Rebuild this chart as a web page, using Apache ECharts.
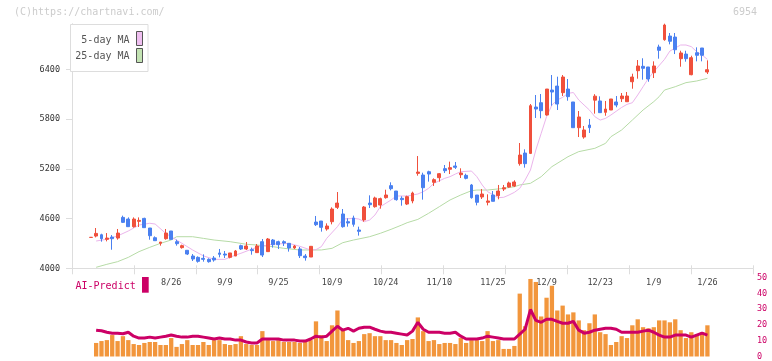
<!DOCTYPE html>
<html><head><meta charset="utf-8">
<script src="https://cdn.jsdelivr.net/npm/echarts@6/dist/echarts.min.js"></script>
<style>html,body{margin:0;padding:0;background:#fff}#c{width:772px;height:361px}</style>
</head><body><div id="c"></div>
<script>
// ---- data ----
const PAD = 3;          // empty slots before first candle
const SLOTS = 127;      // total category slots on the x axis
const tickLabels = [[15,'8/26'],[25,'9/9'],[35,'9/25'],[45,'10/9'],[55,'10/24'],[65,'11/10'],[75,'11/25'],[85,'12/9'],[95,'12/23'],[105,'1/9'],[115,'1/26']];
const yTicks = [4000,4600,5200,5800,6400];
const volTicks = [0,10,20,30,40,50];
// [open, close, low, high]
const ohlc = [
[4372,4374,4372,4374],[4389,4421,4373,4486],[4405,4357,4321,4417],[4349,4365,4325,4425],[4377,4357,4224,4401],
[4365,4425,4345,4474],[4614,4554,4546,4635],[4594,4502,4502,4614],[4502,4594,4490,4614],[4566,4578,4498,4614],
[4602,4490,4490,4610],[4486,4393,4345,4486],[4369,4333,4333,4385],[4301,4317,4273,4317],[4357,4425,4345,4474],
[4450,4349,4349,4450],[4321,4297,4273,4345],[4249,4273,4237,4285],[4217,4172,4160,4217],[4148,4112,4088,4172],
[4132,4084,4068,4144],[4120,4108,4080,4168],[4108,4080,4068,4120],[4124,4100,4080,4148],[4185,4168,4132,4233],
[4172,4160,4124,4209],[4132,4185,4120,4185],[4148,4209,4148,4221],[4273,4233,4221,4285],[4233,4269,4221,4317],
[4225,4213,4164,4249],[4189,4269,4189,4293],[4321,4160,4136,4353],[4201,4353,4201,4365],[4341,4285,4249,4353],
[4321,4285,4233,4333],[4321,4305,4269,4337],[4301,4245,4201,4301],[4245,4269,4233,4281],[4233,4152,4124,4257],
[4148,4128,4092,4172],[4136,4265,4136,4269],[4558,4526,4510,4631],[4570,4494,4442,4570],[4474,4510,4454,4542],
[4562,4715,4530,4735],[4735,4787,4715,4920],[4655,4502,4490,4715],[4562,4546,4502,4603],[4607,4530,4502,4635],
[4462,4446,4394,4502],[4583,4739,4562,4751],[4787,4767,4727,4880],[4743,4848,4731,4864],[4763,4840,4719,4852],
[4852,4884,4840,4948],[4997,4960,4940,5037],[4932,4828,4816,4932],[4844,4828,4755,4868],[4775,4864,4763,4876],
[4812,4908,4784,4924],[5145,5161,5117,5354],[5125,4972,4828,5153],[5165,5137,5045,5177],[5037,5069,4993,5085],
[5093,5141,5045,5149],[5202,5177,5149,5246],[5194,5214,5137,5286],[5234,5218,5198,5282],[5129,5149,5089,5206],
[5121,5085,5073,5141],[5005,4852,4840,5017],[4884,4796,4759,4884],[4860,4896,4836,4956],[4796,4812,4759,4892],
[4884,4808,4808,4932],[4876,4932,4832,5005],[4956,4972,4932,5005],[4980,5029,4972,5045],[4992,5041,4980,5061],
[5262,5366,5238,5511],[5390,5262,5214,5435],[5386,5961,5378,5981],[5945,5921,5813,6090],[5997,5901,5809,6102],
[5849,6162,5841,6162],[6150,6126,5961,6331],[6198,5981,5909,6311],[6118,6307,6078,6331],[6162,6070,6021,6283],
[6006,5696,5696,6006],[5696,5825,5583,5897],[5583,5668,5563,5716],[5728,5696,5632,5801],[6028,6076,5865,6100],
[6018,5877,5877,6074],[5881,5921,5840,6018],[5909,6042,5909,6042],[6006,5969,5942,6078],[6045,6078,6006,6114],
[6009,6078,6006,6126],[6250,6307,6166,6347],[6383,6440,6287,6512],[6436,6412,6275,6533],[6428,6283,6250,6428],
[6359,6440,6295,6496],[6669,6629,6528,6697],[6757,6934,6745,6950],[6801,6738,6701,6838],[6789,6636,6584,6838],
[6528,6597,6431,6624],[6584,6528,6492,6624],[6335,6540,6328,6564],[6600,6569,6496,6665],[6657,6569,6496,6657],
[6367,6395,6343,6508]
];
// [candle index, value]
const ma5 = [[1,4329],[3,4350],[5,4390],[7,4450],[9,4522],[11,4543],[12,4534],[14,4420],[15,4381],[17,4301],[19,4221],[21,4150],[23,4108],[25,4108],[27,4160],[28,4181],[31,4255],[34,4293],[37,4300],[39,4265],[41,4221],[42,4225],[43,4261],[44,4361],[46,4502],[47,4594],[49,4603],[50,4594],[51,4562],[52,4582],[53,4643],[54,4743],[56,4824],[57,4872],[59,4872],[61,4896],[62,4924],[63,4964],[64,5025],[66,5085],[67,5105],[68,5137],[69,5165],[71,5173],[72,5105],[73,5005],[74,4924],[76,4852],[77,4856],[78,4884],[79,4916],[80,4964],[81,5065],[82,5185],[83,5427],[84,5628],[85,5829],[86,5969],[87,6030],[88,6062],[89,6110],[90,6120],[91,6030],[92,5969],[93,5909],[94,5829],[95,5788],[96,5808],[97,5849],[99,5940],[100,5977],[101,5997],[102,6090],[103,6190],[104,6291],[105,6371],[107,6520],[108,6620],[110,6693],[111,6693],[112,6673],[113,6612],[114,6572],[115,6520]];
const ma25 = [[1,4012],[3,4048],[5,4080],[7,4132],[9,4201],[11,4253],[13,4301],[15,4341],[16,4381],[19,4381],[21,4361],[23,4341],[26,4321],[29,4290],[31,4281],[34,4261],[36,4241],[39,4221],[41,4221],[43,4221],[45,4241],[47,4309],[49,4341],[52,4381],[54,4422],[56,4470],[58,4522],[59,4550],[61,4590],[63,4663],[65,4743],[67,4824],[69,4884],[71,4936],[72,4944],[74,4944],[77,4964],[79,4984],[80,5005],[82,5025],[84,5105],[86,5226],[89,5346],[91,5407],[94,5447],[96,5507],[97,5587],[99,5668],[101,5788],[103,5909],[105,6010],[106,6070],[107,6150],[109,6190],[111,6239],[113,6259],[115,6291]];
const volume = [null,
8.6,9.8,10.4,13.6,9.8,12.9,10.4,7.9,7.3,8.6,9.2,9.2,7.3,7.3,11.7,6.1,7.9,10.4,7.3,7.3,9.2,7.3,10.4,10.4,7.9,7.3,7.9,12.9,7.9,7.3,7.3,16.1,10.4,9.8,10.4,9.2,9.2,9.2,8.6,
9.8,10.4,22.3,13.6,9.8,19.8,29.2,16.7,10.4,8.6,9.8,14.2,14.8,12.9,12.9,10.4,10.4,8.6,7.3,10.4,11.1,24.8,16.1,9.8,10.4,7.9,8.6,8.6,7.9,11.7,8.6,10.4,10.4,9.8,16.1,9.8,10.4,4.8,4.8,6.7,39.9,19.2,
49.2,47.3,25.4,37.3,44.9,29.2,32.3,26.7,28.0,22.9,16.7,21.1,26.7,15.4,14.2,7.3,9.2,12.9,11.7,19.8,23.6,18.6,17.9,18.6,22.9,22.9,21.7,23.6,16.7,11.7,15.4,13.6,15.4,19.8];
const aiPredict = [null,
16.7,16.3,15.4,14.8,14.8,14.4,15.4,12.9,11.7,11.7,12.3,11.7,12.3,12.9,13.6,12.9,12.3,12.3,12.9,12.9,12.3,11.7,11.1,11.7,11.1,11.1,10.4,10.4,9.2,8.6,8.6,11.1,11.1,11.1,11.1,10.4,10.4,10.4,9.8,
9.8,11.1,12.9,12.3,12.9,16.1,19.2,16.7,17.9,16.1,17.9,18.6,18.6,17.3,16.1,15.4,15.4,14.8,14.2,13.6,16.1,21.7,17.3,15.4,15.4,15.4,14.8,14.8,15.4,12.9,11.1,11.1,11.1,11.7,12.9,12.3,11.7,11.1,11.1,11.1,14.2,17.3,
29.8,22.9,21.7,23.6,23.6,22.3,21.1,21.1,22.3,16.7,14.8,15.4,16.7,17.3,17.9,17.9,17.3,15.4,15.4,15.4,15.4,16.1,16.7,15.4,13.6,12.3,12.3,13.6,13.6,13.6,12.3,13.6,14.8,13.6];

// ---- chart ----
const mono = "'DejaVu Sans Mono', monospace";
const slots = Array.from({length: SLOTS}, (_, k) => String(k));
const labelMap = {};
tickLabels.forEach(([i, t]) => { labelMap[i + PAD] = t; });
const UP = '#f0503c', DOWN = '#4a80f0';

const chart = echarts.init(document.getElementById('c'), null, {renderer: 'canvas'});
chart.setOption({
  animation: false,
  backgroundColor: '#fff',
  grid: [
    {left: 72, right: 19, top: 23.7, bottom: 92.7},
    {left: 72, right: 19, top: 277.7, bottom: 3.3}
  ],
  xAxis: [
    {type: 'category', gridIndex: 0, data: slots, boundaryGap: true, position: 'bottom',
     axisLine: {show: false}, axisTick: {show: false}, splitLine: {show: false},
     axisLabel: {show: true, interval: (idx) => labelMap[idx] !== undefined, formatter: (v, idx) => labelMap[idx] || '',
       color: '#444', fontSize: 8.5, fontFamily: mono, margin: 10}},
    {type: 'value', gridIndex: 0, min: 0, max: 11, interval: 1, position: 'bottom',
     axisLine: {show: true, lineStyle: {color: '#ddd', width: 1}},
     axisTick: {show: true, length: 6, lineStyle: {color: '#ddd'}},
     axisLabel: {show: false}, splitLine: {show: false}},
    {type: 'value', gridIndex: 0, min: 0, max: 11, interval: 1, position: 'bottom',
     axisLine: {show: false}, axisTick: {show: true, inside: true, length: 3, lineStyle: {color: '#ddd'}},
     axisLabel: {show: false}, splitLine: {show: false}},
    {type: 'category', gridIndex: 1, data: slots, boundaryGap: true,
     axisLine: {show: false}, axisTick: {show: false}, axisLabel: {show: false}, splitLine: {show: false}}
  ],
  yAxis: [
    {type: 'value', gridIndex: 0, min: 4000, max: 6950, offset: 1,
     axisLine: {show: true, lineStyle: {color: '#ddd'}},
     axisTick: {show: true, length: 6, lineStyle: {color: '#ddd'}, customValues: yTicks},
     axisLabel: {color: '#333', fontSize: 8.5, fontFamily: mono, margin: 11, customValues: yTicks, formatter: (v) => String(v)},
     splitLine: {show: false}},
    {type: 'value', gridIndex: 1, min: 0, max: 50, interval: 10, position: 'right',
     axisLine: {show: false}, axisTick: {show: false}, splitLine: {show: false},
     axisLabel: {color: '#cc0066', fontSize: 8.5, fontFamily: mono, margin: 4, customValues: volTicks, formatter: (v) => String(v)}}
  ],
  series: [
    {type: 'line', xAxisIndex: 0, yAxisIndex: 0, z: 1, data: ma25.map(([i, v]) => [i + PAD, v]),
     showSymbol: false, symbol: 'none', lineStyle: {color: '#b6dba6', width: 1}, silent: true},
    {type: 'line', xAxisIndex: 0, yAxisIndex: 0, z: 1, data: ma5.map(([i, v]) => [i + PAD, v]),
     showSymbol: false, symbol: 'none', lineStyle: {color: '#ebb5ec', width: 1}, silent: true},
    {type: 'candlestick', xAxisIndex: 0, yAxisIndex: 0, z: 3, barWidth: 3.4,
     encode: {x: 0, y: [1, 2, 3, 4]},
     data: ohlc.map((d, i) => [i + PAD, d[0], d[1], d[2], d[3]]),
     itemStyle: {color: UP, color0: DOWN, borderColor: UP, borderColor0: DOWN, borderWidth: 1}},
    {type: 'bar', xAxisIndex: 3, yAxisIndex: 1, z: 2, barWidth: 4.3,
     data: volume.map((v, i) => v == null ? null : [i + PAD, v]).filter(Boolean),
     itemStyle: {color: '#f2963c'}},
    {type: 'line', xAxisIndex: 3, yAxisIndex: 1, z: 4,
     data: aiPredict.map((v, i) => v == null ? null : [i + PAD, v]).filter(Boolean),
     showSymbol: false, symbol: 'none', lineStyle: {color: '#cc0066', width: 3}}
  ],
  graphic: [
    {type: 'text', x: 14, y: 12, style: {text: '(C)https://chartnavi.com/', fill: '#cccccc', font: "10px 'DejaVu Sans Mono'", textAlign: 'left', textVerticalAlign: 'middle', align: 'left', verticalAlign: 'middle'}},
    {type: 'text', x: 757, y: 12, style: {text: '6954', fill: '#cccccc', font: "10px 'DejaVu Sans Mono'", textAlign: 'right', textVerticalAlign: 'middle', align: 'right', verticalAlign: 'middle'}},
    {type: 'rect', z: 10, shape: {x: 70.5, y: 24.5, width: 77.5, height: 47}, style: {fill: '#fff', stroke: '#dddddd', lineWidth: 1}},
    {type: 'text', z: 11, x: 129.5, y: 40, style: {text: '5-day MA', fill: '#555', font: "10px 'DejaVu Sans Mono'", textAlign: 'right', textVerticalAlign: 'middle', align: 'right', verticalAlign: 'middle'}},
    {type: 'text', z: 11, x: 129.5, y: 56, style: {text: '25-day MA', fill: '#555', font: "10px 'DejaVu Sans Mono'", textAlign: 'right', textVerticalAlign: 'middle', align: 'right', verticalAlign: 'middle'}},
    {type: 'rect', z: 11, shape: {x: 136.5, y: 31.5, width: 6, height: 14}, style: {fill: '#efbff0', stroke: '#555', lineWidth: 1}},
    {type: 'rect', z: 11, shape: {x: 136.5, y: 48.5, width: 6, height: 14}, style: {fill: '#c3e3b3', stroke: '#555', lineWidth: 1}},
    {type: 'text', z: 11, x: 75.5, y: 286, style: {text: 'AI-Predict', fill: '#cc0066', font: "10px 'DejaVu Sans Mono'", textAlign: 'left', textVerticalAlign: 'middle', align: 'left', verticalAlign: 'middle'}},
    {type: 'rect', z: 11, shape: {x: 142, y: 277, width: 6.7, height: 15.7}, style: {fill: '#cc0066'}}
  ]
});
</script>
</body></html>
